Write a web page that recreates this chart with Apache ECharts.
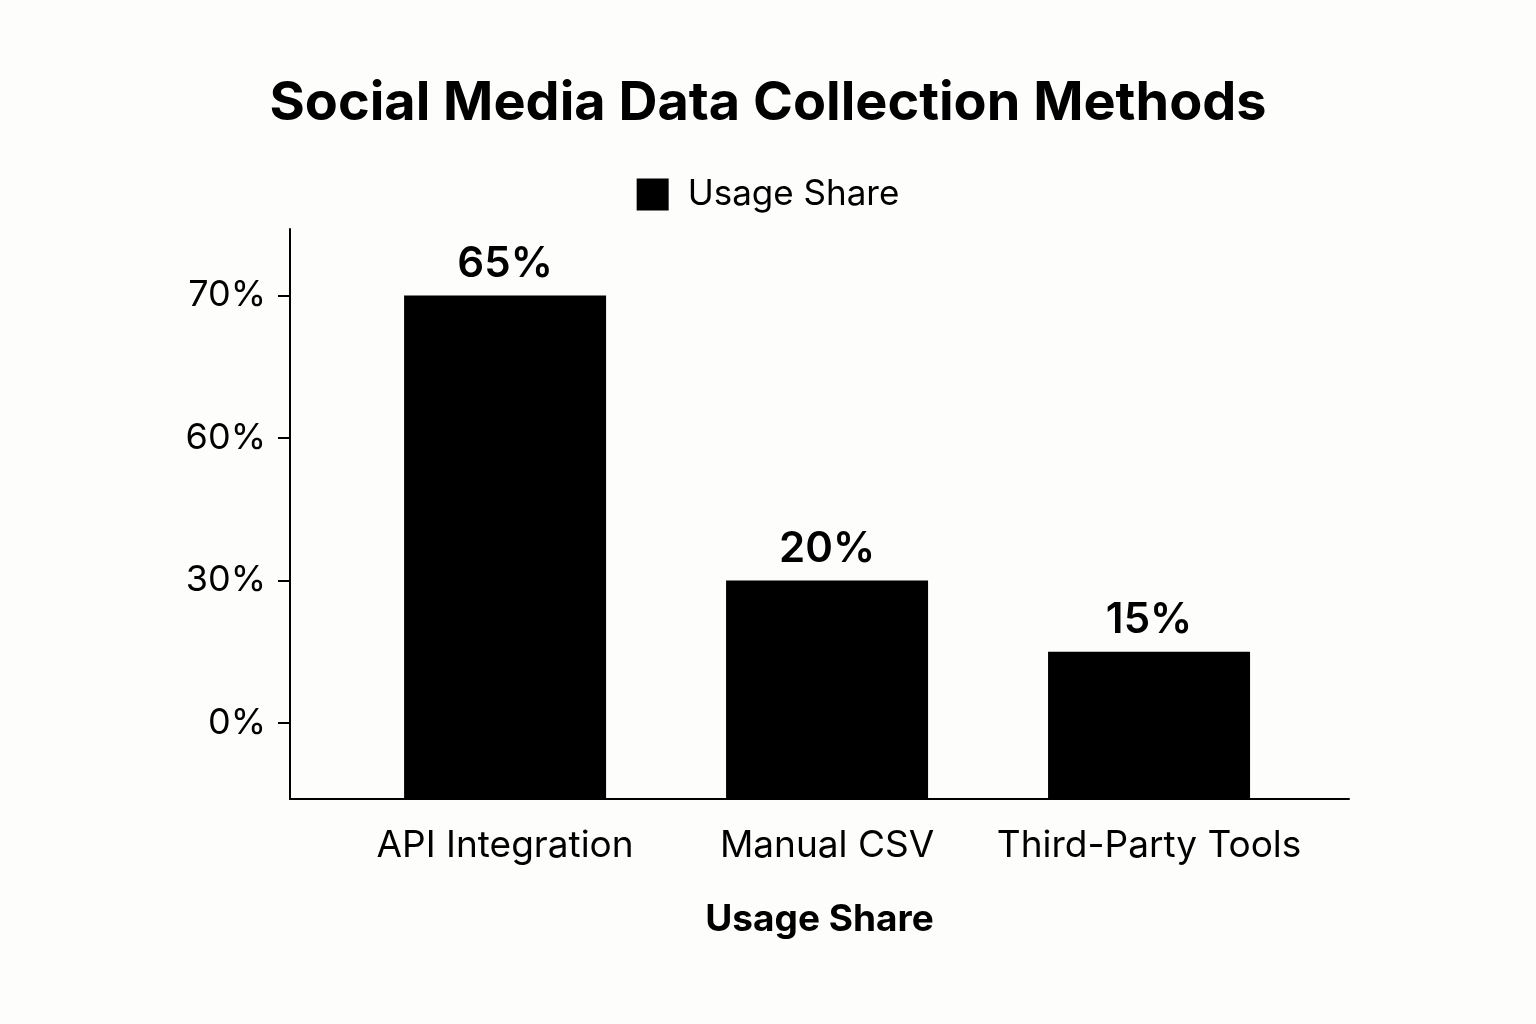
<!DOCTYPE html>
<html>
<head>
<meta charset="utf-8">
<script src="https://cdn.jsdelivr.net/npm/echarts@6/dist/echarts.min.js"></script>
<style>
html, body { margin: 0; padding: 0; background: #fdfdfb; }
#chart { width: 1536px; height: 1024px; }
</style>
</head>
<body>
<div id="chart"></div>
<script>
// chart data
var categories = ['API Integration', 'Manual CSV', 'Third-Party Tools'];
var shareLabels = [65, 20, 15];        // printed above the bars
var barHeights = [70, 30, 15];         // bar tops as read against the y axis
var yTickValues = [0, 30, 60, 70];     // y tick labels, evenly spaced in the picture

// the y axis is drawn with even spacing between uneven tick values and its
// 0% tick sits above the x axis line, so map a value to its axis position
var zeroOffset = 0.533;
function axisPos(v) {
	for (var i = 0; i < yTickValues.length - 1; i++) {
		var a = yTickValues[i], b = yTickValues[i + 1];
		if (v <= b) return zeroOffset + i + (v - a) / (b - a);
	}
	return zeroOffset + yTickValues.length - 1;
}
var tickPositions = yTickValues.map(function (v) { return axisPos(v); });

var fontFamily = 'Inter, "Noto Sans", sans-serif';
var chart = echarts.init(document.getElementById('chart'));

chart.setOption({
	backgroundColor: '#fdfdfb',
	animation: false,
	title: {
		text: 'Social Media Data Collection Methods',
		left: 'center',
		top: 72,
		textStyle: { fontFamily: fontFamily, fontSize: 54, fontWeight: 'bold', color: '#000' }
	},
	legend: {
		data: ['Usage Share'],
		top: 172,
		left: 'center',
		itemWidth: 32,
		itemHeight: 32,
		icon: 'rect',
		textStyle: { fontFamily: fontFamily, fontSize: 35, color: '#000', padding: [0, 0, 0, 14] }
	},
	grid: { left: 290, right: 187, top: 229, bottom: 225 },
	xAxis: {
		type: 'value',
		min: -0.668,
		max: 2.621,
		name: 'Usage Share',
		nameLocation: 'middle',
		nameGap: 102,
		nameTextStyle: { fontFamily: fontFamily, fontSize: 37, fontWeight: 'bold', color: '#000' },
		axisLine: { onZero: false, lineStyle: { color: '#000', width: 2 } },
		axisTick: { show: false },
		splitLine: { show: false },
		axisLabel: {
			customValues: [0, 1, 2],
			formatter: function (v) { return categories[Math.round(v)]; },
			margin: 28,
			fontFamily: fontFamily,
			fontSize: 37,
			color: '#000'
		}
	},
	yAxis: {
		type: 'value',
		min: 0,
		max: 4.0,
		axisLine: { show: true, onZero: false, lineStyle: { color: '#000', width: 2 } },
		axisTick: { show: true, customValues: tickPositions, length: 12, lineStyle: { color: '#000', width: 2 } },
		splitLine: { show: false },
		axisLabel: {
			customValues: tickPositions,
			formatter: function (v) {
				return yTickValues[Math.round(v - zeroOffset)] + '%';
			},
			margin: 24,
			fontFamily: fontFamily,
			fontSize: 36,
			color: '#000'
		}
	},
	series: [{
		name: 'Usage Share',
		type: 'bar',
		barWidth: 202,
		itemStyle: { color: '#000' },
		data: barHeights.map(function (h, i) { return [i, axisPos(h)]; }),
		label: {
			show: true,
			position: 'top',
			distance: 10,
			formatter: function (p) { return shareLabels[p.dataIndex] + '%'; },
			fontFamily: fontFamily,
			fontSize: 42,
			fontWeight: 600,
			color: '#000'
		}
	}]
});
</script>
</body>
</html>
